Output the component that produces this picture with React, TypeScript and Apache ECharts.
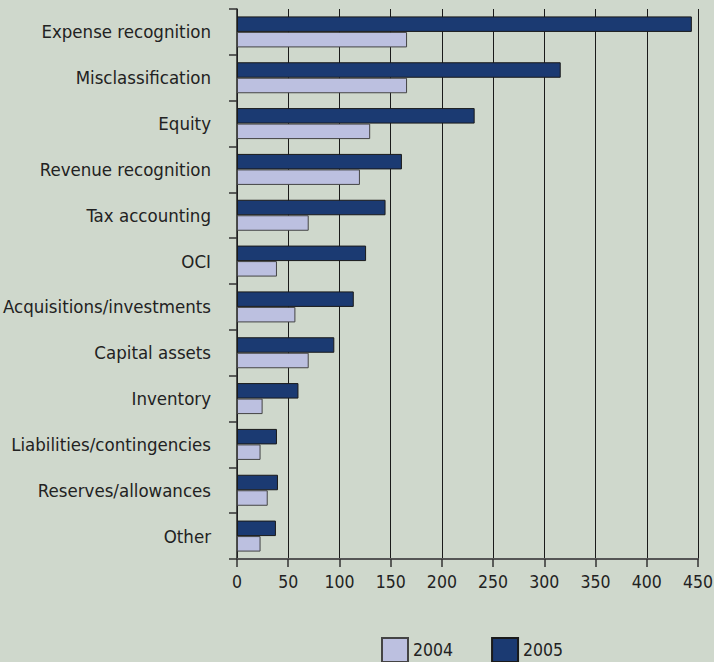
import React, { useEffect, useRef } from "react";
import * as echarts from "echarts";

const categories = [
  "Expense recognition",
  "Misclassification",
  "Equity",
  "Revenue recognition",
  "Tax accounting",
  "OCI",
  "Acquisitions/investments",
  "Capital assets",
  "Inventory",
  "Liabilities/contingencies",
  "Reserves/allowances",
  "Other",
];
const values2004 = [166, 166, 130, 120, 70, 39, 57, 70, 25, 23, 30, 23];
const values2005 = [444, 316, 232, 161, 145, 126, 114, 95, 60, 39, 40, 38];
const xTicks = { min: 0, max: 450, interval: 50 };

const FONT = '"DejaVu Sans Condensed", "Liberation Sans Narrow", sans-serif';

export default function App() {
  const ref = useRef<HTMLDivElement>(null);
  useEffect(() => {
    document.body.style.margin = "0";
    const chart = echarts.init(ref.current!, null, { renderer: "svg" });
    chart.setOption({
      animation: false,
      backgroundColor: "#cfd8cc",
      textStyle: { fontFamily: FONT },
      grid: { left: 237, right: 16, top: 9, bottom: 103, containLabel: false, outerBoundsMode: "none" },
      legend: {
        data: ["2004", "2005"],
        left: 381,
        top: 637,
        padding: 0,
        icon: "rect",
        itemWidth: 26,
        itemHeight: 24,
        itemGap: 38,
        textStyle: { fontSize: 17.5, color: "#222", fontFamily: FONT, padding: [0, 0, 0, 0] },
      },
      xAxis: {
        type: "value",
        min: xTicks.min,
        max: xTicks.max,
        interval: xTicks.interval,
        axisLine: { show: true, lineStyle: { color: "#555", width: 2 } },
        axisTick: { show: true, length: 8, lineStyle: { color: "#333", width: 1.5 } },
        axisLabel: { fontSize: 17.5, color: "#222", margin: 14, fontFamily: FONT },
        splitLine: { show: true, lineStyle: { color: "#1a1a1a", width: 1 } },
      },
      yAxis: {
        type: "category",
        data: categories,
        inverse: true,
        axisLine: { show: true, lineStyle: { color: "#222", width: 1.5 } },
        axisTick: { show: true, length: 8, interval: 0, lineStyle: { color: "#333", width: 1.5 } },
        axisLabel: { fontSize: 18.5, color: "#222", margin: 26, interval: 0, fontFamily: FONT },
        splitLine: { show: false },
      },
      series: [
        {
          name: "2005",
          type: "bar",
          data: values2005,
          barWidth: 15.5,
          barGap: "0%",
          itemStyle: { color: "#1b3a72", borderColor: "#1a1a1a", borderWidth: 1 },
        },
        {
          name: "2004",
          type: "bar",
          data: values2004,
          barWidth: 15.5,
          barGap: "0%",
          itemStyle: { color: "#bcc0e0", borderColor: "#444", borderWidth: 1 },
        },
      ],
    });
    return () => chart.dispose();
  }, []);
  return <div ref={ref} style={{ width: 714, height: 662 }} />;
}
